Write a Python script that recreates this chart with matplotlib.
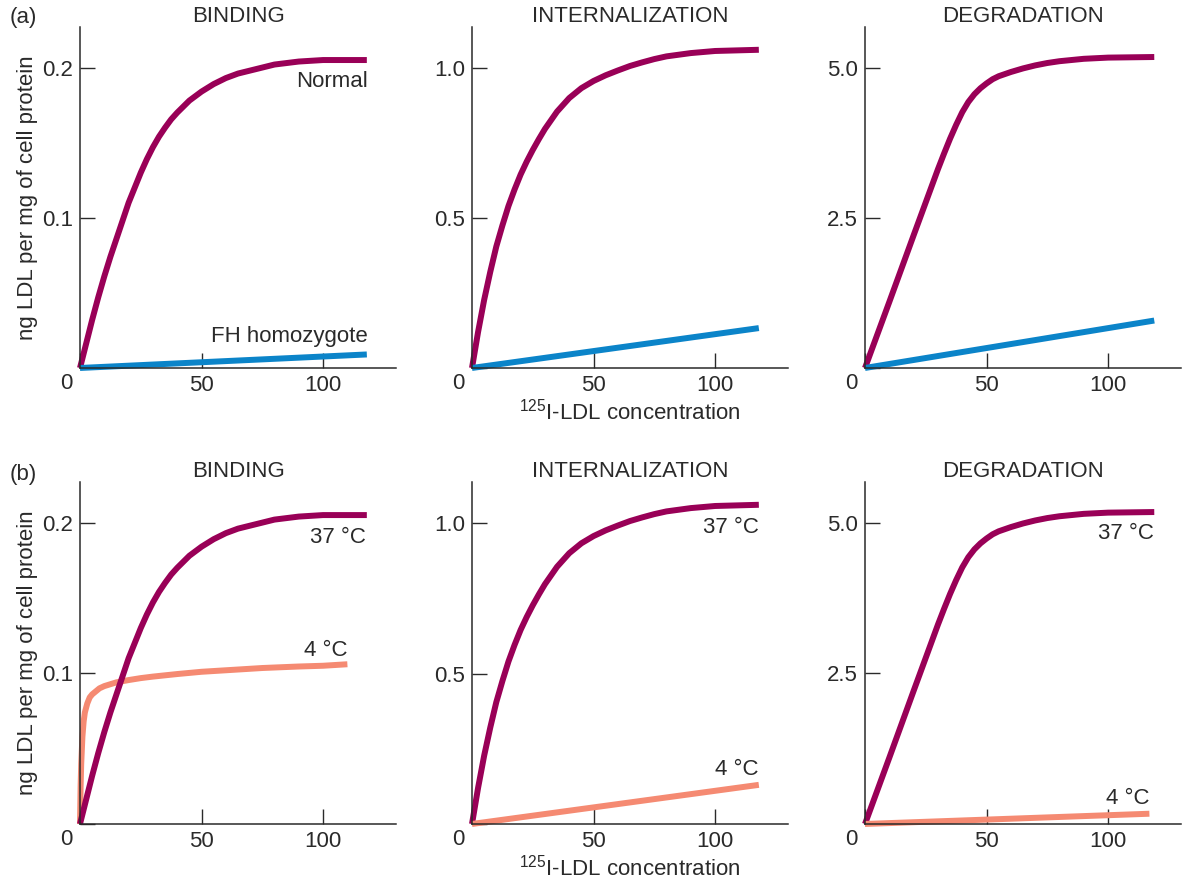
import matplotlib
matplotlib.use("Agg")
import matplotlib.pyplot as plt

plt.rcParams['font.family'] = ['Liberation Sans', 'DejaVu Sans']
plt.rcParams['mathtext.fontset'] = 'custom'
plt.rcParams['mathtext.rm'] = 'Liberation Sans'
plt.rcParams['font.size'] = 16

# ---- data ----
conc_bind = [0, 2.5, 5, 7.5, 10, 12.5, 15, 17.5, 20, 22.5, 25, 27.5, 30, 32.5, 35, 37.5,
             40, 42.5, 45, 47.5, 50, 55, 60, 65, 70, 75, 80, 85, 90, 95, 100, 110, 118]
bind_normal = [0, 0.016, 0.032, 0.047, 0.061, 0.074, 0.086, 0.098, 0.110, 0.120, 0.130,
               0.139, 0.147, 0.154, 0.160, 0.1655, 0.170, 0.174, 0.178, 0.181, 0.184,
               0.189, 0.193, 0.196, 0.198, 0.200, 0.202, 0.203, 0.204, 0.2045, 0.205,
               0.205, 0.205]

conc_int = [0, 2.5, 5, 7.5, 10, 12.5, 15, 17.5, 20, 22.5, 25, 27.5, 30, 35, 40, 45, 50,
            55, 60, 65, 70, 75, 80, 90, 100, 118]
int_normal = [0, 0.12, 0.227, 0.32, 0.405, 0.475, 0.54, 0.595, 0.645, 0.688, 0.727,
              0.763, 0.797, 0.855, 0.90, 0.933, 0.957, 0.976, 0.992, 1.007, 1.019, 1.030,
              1.039, 1.050, 1.057, 1.061]

conc_deg = [0, 10, 20, 30, 32.5, 35, 37.5, 40, 42.5, 45, 47.5, 50, 52.5, 55, 60, 65, 70,
            75, 80, 90, 100, 119]
deg_normal = [0, 1.10, 2.21, 3.31, 3.57, 3.82, 4.05, 4.26, 4.43, 4.56, 4.66, 4.74, 4.81,
              4.86, 4.93, 4.99, 5.04, 5.08, 5.11, 5.15, 5.17, 5.18]

# FH homozygote (straight lines)
conc_fh = [0, 118]
bind_fh = [0, 0.009]
int_fh = [0, 0.133]
conc_fh_deg = [0, 119]
deg_fh = [0, 0.79]

# 4 degC
conc_cold_bind = [0, 0.25, 0.5, 1, 1.5, 2, 3, 4, 5, 6.5, 8, 10, 12, 15, 20, 25, 30, 40,
                  50, 60, 75, 90, 100, 110]
bind_cold = [0, 0.025, 0.04, 0.058, 0.068, 0.074, 0.080, 0.084, 0.086, 0.088, 0.090,
             0.0915, 0.0925, 0.094, 0.0955, 0.0968, 0.0978, 0.0995, 0.101, 0.102, 0.1035,
             0.1045, 0.105, 0.106]
conc_cold_int = [0, 118]
int_cold = [0, 0.13]
conc_cold_deg = [0, 117]
deg_cold = [0, 0.17]

titles = ["BINDING", "INTERNALIZATION", "DEGRADATION"]
ymax = [0.227, 1.137, 5.68]
yticks = [[0.1, 0.2], [0.5, 1.0], [2.5, 5.0]]
yticklabels = [["0.1", "0.2"], ["0.5", "1.0"], ["2.5", "5.0"]]

PURPLE = "#990057"
BLUE = "#0b84c9"
SALMON = "#f58a72"
INK = "#2a2a2a"

fig = plt.figure(figsize=(11.83, 8.82), dpi=100)
lefts = [80 / 1183, 472 / 1183, 865 / 1183]
w = 316 / 1183
rows = [(0.5828, 0.3866), (0.0658, 0.3878)]

axes = []
for r, (b, h) in enumerate(rows):
    row = []
    for c in range(3):
        ax = fig.add_axes([lefts[c], b, w, h])
        ax.set_xlim(0, 130)
        ax.set_ylim(0, ymax[c])
        for s in ["top", "right"]:
            ax.spines[s].set_visible(False)
        for s in ["left", "bottom"]:
            ax.spines[s].set_color(INK)
            ax.spines[s].set_linewidth(1.1)
        ax.set_xticks([0, 50, 100])
        ax.set_xticklabels(["", "50", "100"])
        ax.set_yticks([0] + yticks[c])
        ax.set_yticklabels([""] + yticklabels[c])
        ax.tick_params(direction="in", length=11, width=1.0, color=INK,
                       labelcolor=INK, labelsize=16, pad=5)
        ax.annotate("0", xy=(0, 0), xytext=(-9.5, -11), textcoords="offset points",
                    ha="center", va="center", color=INK, fontsize=16,
                    annotation_clip=False)
        ax.set_title(titles[c], fontsize=16, color=INK, pad=0.5)
        row.append(ax)
    axes.append(row)

lw = 4.3
kw = dict(lw=lw, solid_capstyle="butt", solid_joinstyle="round", clip_on=False)

# (a) normal vs FH homozygote
a0, a1, a2 = axes[0]
a0.plot(conc_bind, bind_normal, color=PURPLE, **kw)
a0.plot(conc_fh, bind_fh, color=BLUE, **kw)
a1.plot(conc_int, int_normal, color=PURPLE, **kw)
a1.plot(conc_fh, int_fh, color=BLUE, **kw)
a2.plot(conc_deg, deg_normal, color=PURPLE, **kw)
a2.plot(conc_fh_deg, deg_fh, color=BLUE, **kw)
a0.text(118.5, 0.191, "Normal", ha="right", va="center", color=INK)
a0.text(118.5, 0.0207, "FH homozygote", ha="right", va="center", color=INK)

# (b) 37 degC vs 4 degC
b0, b1, b2 = axes[1]
b0.plot(conc_cold_bind, bind_cold, color=SALMON, **kw)
b0.plot(conc_bind, bind_normal, color=PURPLE, **kw)
b1.plot(conc_int, int_normal, color=PURPLE, **kw)
b1.plot(conc_cold_int, int_cold, color=SALMON, **kw)
b2.plot(conc_deg, deg_normal, color=PURPLE, **kw)
b2.plot(conc_cold_deg, deg_cold, color=SALMON, **kw)
b0.text(117.7, 0.190, "37 °C", ha="right", va="center", color=INK)
b0.text(110, 0.115, "4 °C", ha="right", va="center", color=INK)
b1.text(118, 0.985, "37 °C", ha="right", va="center", color=INK)
b1.text(118, 0.18, "4 °C", ha="right", va="center", color=INK)
b2.text(119, 4.83, "37 °C", ha="right", va="center", color=INK)
b2.text(117, 0.43, "4 °C", ha="right", va="center", color=INK)

for r in range(2):
    axes[r][0].set_ylabel("ng LDL per mg of cell protein", fontsize=16, color=INK,
                          labelpad=3)
    axes[r][1].set_xlabel(r"$^{125}$I-LDL concentration", fontsize=16, color=INK,
                          labelpad=2)

fig.text(10 / 1183, 1 - 18 / 882, "(a)", va="center", ha="left", color=INK, fontsize=16)
fig.text(10 / 1183, 1 - 474 / 882, "(b)", va="center", ha="left", color=INK, fontsize=16)

fig.savefig("out.png", dpi=100)
